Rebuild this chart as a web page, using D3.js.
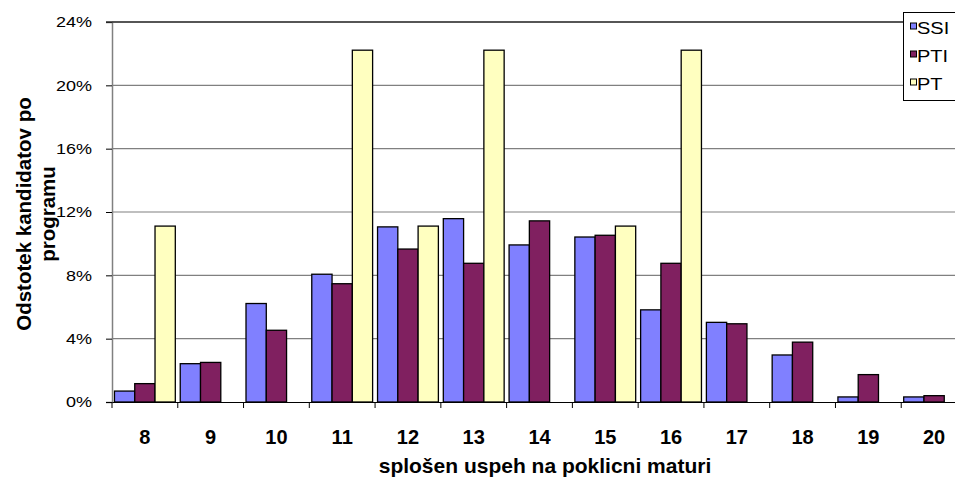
<!DOCTYPE html>
<html><head><meta charset="utf-8">
<script src="https://cdn.jsdelivr.net/npm/d3@7"></script>
<style>body{margin:0;background:#fff}svg{display:block;font-family:"Liberation Sans",Arial,sans-serif}</style>
</head><body><svg id="c" width="955" height="477"></svg>
<script>
const categories = ["8","9","10","11","12","13","14","15","16","17","18","19","20"];
const seriesNames = ["SSI","PTI","PT"];
const ssi = [0.69,2.42,6.22,8.07,11.06,11.58,9.92,10.42,5.82,5.03,2.97,0.32,0.32];
const pti = [1.16,2.5,4.53,7.47,9.66,8.76,11.44,10.53,8.76,4.94,3.78,1.73,0.40];
const pt  = [11.11,0,0,22.22,11.11,22.22,0,11.11,22.22,0,0,0,0];
const yTicks = [0,4,8,12,16,20,24];
const colors = ["#8080FF","#802060","#FFFFC0"];

const svg = d3.select("#c");
const FONT = '"Liberation Sans",Arial,sans-serif';
const m = {left:112, top:22, right:967, bottom:402};
const x = d3.scaleBand().domain(categories).range([m.left, m.right]).paddingInner(0.075).paddingOuter(0.0375);
const xc = d3.scaleBand().domain(categories).range([m.left, m.right]);
const y = d3.scaleLinear().domain([0,24]).range([m.bottom, m.top]);
const xs = d3.scaleBand().domain(seriesNames).range([0, x.bandwidth()]);

// gridlines
svg.append("g").selectAll("line").data(yTicks.filter(d=>d>0)).join("line")
  .attr("x1", m.left).attr("x2", 955).attr("y1", d=>y(d)).attr("y2", d=>y(d))
  .attr("stroke", "#808080").attr("stroke-width", 1.2);

const data = [ssi, pti, pt];
const g = svg.append("g");
categories.forEach((c,i)=>{
  seriesNames.forEach((s,j)=>{
    const v = data[j][i];
    if (v <= 0) return;
    g.append("rect")
      .attr("x", x(c) + xs(s)).attr("width", xs.bandwidth())
      .attr("y", y(v)).attr("height", y(0) - y(v))
      .attr("fill", colors[j]).attr("stroke", "#000").attr("stroke-width", 1.3);
  });
});

// y axis
const ya = d3.axisLeft(y).tickValues(yTicks).tickSize(6).tickFormat(d=>d+"%");
const yg = svg.append("g").attr("transform", `translate(${m.left},0)`).call(ya);
yg.attr("font-size", null).attr("font-family", null);
yg.select(".domain").attr("stroke", "#808080").attr("stroke-width", 1.5);
yg.selectAll(".tick line").attr("stroke", "#000");
yg.selectAll(".tick text").attr("font-size", 15).attr("fill", "#000")
  .attr("font-family", FONT).attr("x", -20/1.2).attr("transform", "scale(1.2,1)");

// x axis
const xa = d3.axisBottom(xc).tickSize(0).tickFormat("");
const xg = svg.append("g").attr("transform", `translate(0,${m.bottom})`).call(xa);
xg.select(".domain").attr("stroke", "#000").attr("stroke-width", 1.2);
xg.selectAll(".tick").remove();
svg.append("g").selectAll("line").data(d3.range(categories.length+1)).join("line")
  .attr("x1", i=>m.left + i*xc.step()).attr("x2", i=>m.left + i*xc.step())
  .attr("y1", m.bottom).attr("y2", m.bottom+6).attr("stroke", "#000");
svg.append("g").selectAll("text").data(categories).join("text")
  .attr("x", d=>xc(d)+xc.bandwidth()/2).attr("y", 443.5)
  .attr("text-anchor","middle").attr("font-size", 20).attr("font-weight","bold").text(d=>d);

// top line
svg.append("line").attr("x1", m.left-6).attr("x2", 955).attr("y1", m.top).attr("y2", m.top)
  .attr("stroke", "#333").attr("stroke-width", 1.5);

// titles
svg.append("text").attr("x", 545).attr("y", 472.5).attr("text-anchor","middle")
  .attr("font-size", 21).attr("font-weight","bold").text("splošen uspeh na poklicni maturi");
const yt = svg.append("text").attr("transform", "translate(0,214) rotate(-90)")
  .attr("text-anchor","middle").attr("font-size", 20.5).attr("font-weight","bold");
yt.append("tspan").attr("x",0).attr("y",31).text("Odstotek kandidatov po");
yt.append("tspan").attr("x",0).attr("y",55).text("programu");

// legend
const lg = svg.append("g");
lg.append("rect").attr("x", 903.5).attr("y", 12.5).attr("width", 60).attr("height", 88)
  .attr("fill", "#fff").attr("stroke", "#000").attr("stroke-width", 1);
const ly = [28, 56, 84];
seriesNames.forEach((s,j)=>{
  lg.append("rect").attr("x", 910.5).attr("y", ly[j]-5).attr("width", 6).attr("height", 6)
    .attr("fill", colors[j]).attr("stroke", "#000").attr("stroke-width", 1);
  lg.append("text").attr("x", 917/1.25).attr("y", ly[j]+6).attr("font-size", 16)
    .attr("transform","scale(1.25,1)").text(s);
});
</script></body></html>
